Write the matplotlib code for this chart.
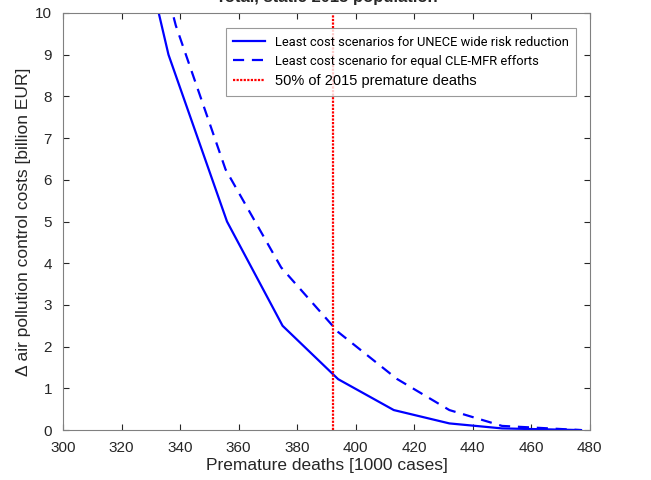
import numpy as np
import matplotlib.pyplot as plt

plt.rcParams['font.family'] = ['Liberation Sans', 'DejaVu Sans']

# least cost scenarios, UNECE wide risk reduction
deaths_unece = [326, 336, 356, 375, 394, 413, 432, 450, 477]
cost_unece = [12.0, 9.0, 5.0, 2.5, 1.22, 0.48, 0.16, 0.04, 0.0]

# least cost scenario, equal CLE-MFR efforts
deaths_equal = [330, 338.5, 355.5, 374.5, 394, 414, 432, 450, 477]
cost_equal = [12.0, 9.7, 6.25, 3.9, 2.35, 1.23, 0.48, 0.1, 0.0]

half_2015 = 392.3

fig = plt.figure(figsize=(6.51, 4.80), dpi=100)
ax = fig.add_axes([0.097, 0.104, 0.809, 0.869])

ax.plot(deaths_unece, cost_unece, color='blue', lw=1.6, label='Least cost scenarios for UNECE wide risk reduction')
ax.plot(deaths_equal, cost_equal, color='blue', lw=1.6, ls=(0, (5, 3.5)), label='Least cost scenario for equal CLE-MFR efforts')
ax.axvline(half_2015, color='red', lw=1.6, ls=(0, (1, 0.6)), label='50% of 2015 premature deaths')

ax.set_xlim(300, 480)
ax.set_ylim(0, 10)
ax.set_xticks(np.arange(300, 481, 20))
ax.set_yticks(np.arange(0, 11, 1))
ax.tick_params(direction='in', top=True, right=True, labelsize=11, colors='#262626', length=4)
ax.tick_params(axis='x', pad=8)
ax.tick_params(axis='y', pad=8)
for s in ax.spines.values():
    s.set_color('#808080')

ax.set_xlabel('Premature deaths [1000 cases]', fontsize=12.5, color='#262626', labelpad=2)
ax.set_ylabel('Δ air pollution control costs [billion EUR]', fontsize=12.5, color='#262626', labelpad=3)
ax.set_title('Total, static 2015 population', fontsize=12, fontweight='bold', pad=8, color='#262626')

leg = ax.legend(loc='upper right', bbox_to_anchor=(0.974, 0.963), fontsize=10.5, frameon=True,
                fancybox=False, edgecolor='#808080', handlelength=2.15, borderpad=0.5,
                labelspacing=0.42, handletextpad=0.7, borderaxespad=0)
leg.get_frame().set_linewidth(0.8)
txts = leg.get_texts()
for t in txts[:2]:
    t.set_family('Roboto')
    t.set_fontsize(9.3)

fig.savefig('out.png', dpi=100)
